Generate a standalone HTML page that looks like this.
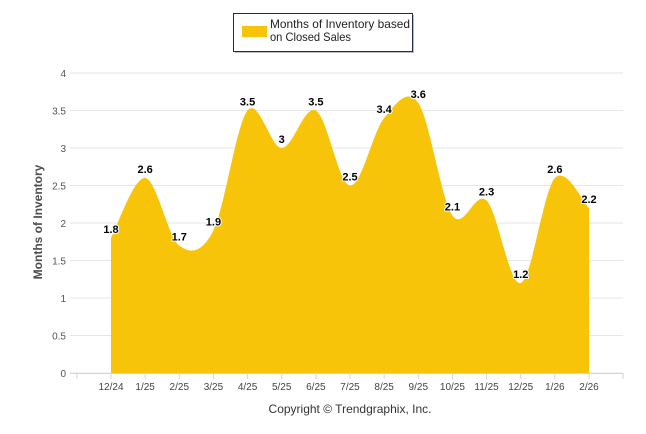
<!DOCTYPE html>
<html><head><meta charset="utf-8"><style>
body{margin:0;background:#fff;}
svg{display:block;font-family:"Liberation Sans",sans-serif;}
</style></head><body>
<svg width="646" height="434" viewBox="0 0 646 434">
<g id="grid"></g>
<g id="area"></g>
<g id="xaxis"></g>
<g id="labels"></g>
<text transform="translate(42,222) rotate(-90)" text-anchor="middle" font-size="12" font-weight="bold" fill="#4d4d4d">Months of Inventory</text>
<text x="350" y="413" text-anchor="middle" font-size="12" fill="#333">Copyright © Trendgraphix, Inc.</text>
<g>
<rect x="235" y="15" width="179" height="38" fill="#444" opacity="0.35"/>
<rect x="233.5" y="13.5" width="179" height="38" fill="#fff" stroke="#1f2d4d" stroke-width="1"/>
<rect x="242" y="26" width="25" height="11" fill="#F8C40A"/>
<text x="270" y="28" font-size="12" fill="#222" textLength="140" lengthAdjust="spacingAndGlyphs">Months of Inventory based</text>
<text x="270" y="41" font-size="12" fill="#222" textLength="81" lengthAdjust="spacingAndGlyphs">on Closed Sales</text>
</g>
</svg>
<script>
const categories=["12/24","1/25","2/25","3/25","4/25","5/25","6/25","7/25","8/25","9/25","10/25","11/25","12/25","1/26","2/26"];
const values=[1.8,2.6,1.7,1.9,3.5,3,3.5,2.5,3.4,3.6,2.1,2.3,1.2,2.6,2.2];
const yTicks=[0,0.5,1,1.5,2,2.5,3,3.5,4];
const NS="http://www.w3.org/2000/svg";
const X0=111,STEP=(589-111)/14,Y0=373,YS=75;
const xs=i=>X0+i*STEP, ys=v=>Y0-v*YS;
function mk(t,a,p){const e=document.createElementNS(NS,t);for(const k in a)e.setAttribute(k,a[k]);p.appendChild(e);return e;}
const grid=document.getElementById('grid');
yTicks.forEach(t=>{
 const l=mk('line',{x1:70,x2:623,y1:ys(t),y2:ys(t),stroke:'#e6e6e6','stroke-width':1},grid);
 
 
 const tx=mk('text',{x:66,y:ys(t)+4,'text-anchor':'end','font-size':10,fill:'#555'},grid);
 tx.textContent=t;
 
 
});
const xa=document.getElementById('xaxis');
mk('line',{x1:70,x2:623,y1:Y0+0.5,y2:Y0+0.5,stroke:'#ccd6eb','stroke-width':1},xa);
for(let i=-1;i<=categories.length;i++){mk('line',{x1:xs(i),x2:xs(i),y1:Y0,y2:Y0+6,stroke:'#ccd6eb'},xa);}
categories.forEach((c,i)=>{
 const t=mk('text',{x:xs(i),y:Y0+17,'text-anchor':'middle','font-size':10,fill:'#444'},xa);
 t.textContent=c;
 
 
});
const pts=values.map((v,i)=>({x:xs(i),y:ys(v)}));
// Catmull-Rom style tangents (no clamping, allows overshoot)
function tan(i){
 const a=pts[Math.max(i-1,0)],b=pts[Math.min(i+1,pts.length-1)];
 return {x:(b.x-a.x)/2,y:(b.y-a.y)/2};
}
let d=`M${pts[0].x},${Y0} L${pts[0].x},${pts[0].y}`;
for(let i=1;i<pts.length;i++){
 const a=pts[i-1],p=pts[i],ta=tan(i-1),tp=tan(i);
 d+=` C${a.x+ta.x/3},${a.y+ta.y/3} ${p.x-tp.x/3},${p.y-tp.y/3} ${p.x},${p.y}`;
}
d+=` L${pts[pts.length-1].x},${Y0} Z`;
const ar=mk('path',{d:d,fill:'#F8C40A'},document.getElementById('area'));


const lb=document.getElementById('labels');
values.forEach((v,i)=>{
 const t=mk('text',{x:xs(i),y:ys(v)-5,'text-anchor':'middle','font-size':11,'font-weight':'bold',fill:'#000',stroke:'#fff','stroke-width':2,'paint-order':'stroke','stroke-linejoin':'round'},lb);
 t.textContent=v;
 
 
});
</script>
</body></html>
